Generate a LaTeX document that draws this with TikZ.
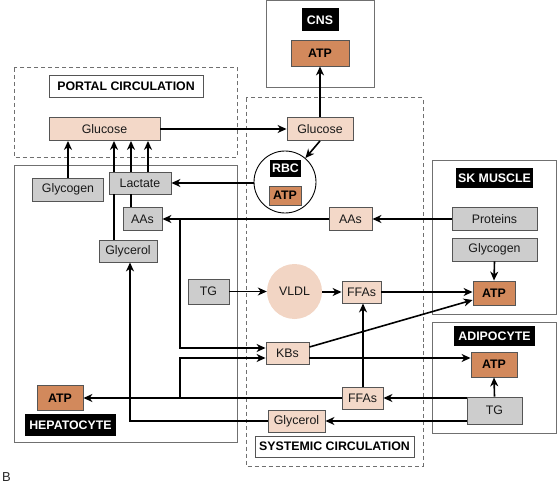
\documentclass[tikz,border=0pt]{standalone}
\usepackage{fontspec}
\setmainfont{Liberation Sans}
\usetikzlibrary{arrows.meta,calc}
\definecolor{peach}{HTML}{F3D8C8}
\definecolor{vldlc}{HTML}{F2D5C4}
\definecolor{atpc}{HTML}{D2895C}
\definecolor{grayf}{HTML}{CDCDCD}
\definecolor{edgec}{HTML}{555555}
\definecolor{framec}{HTML}{707070}
\begin{document}
\begin{tikzpicture}[x=1bp,y=-1bp,
  every node/.style={font=\fontsize{12.4}{14}\selectfont, inner sep=0pt, text=black!90},
  sz/.style 2 args={minimum width=#1, minimum height=#2},
  pbox/.style={draw=edgec, line width=0.9pt, fill=peach},
  gbox/.style={draw=edgec, line width=0.9pt, fill=grayf},
  abox/.style={draw=edgec, line width=0.9pt, fill=atpc, font=\fontsize{12.4}{14}\selectfont\bfseries, text=black},
  blab/.style={fill=black, text=white, font=\fontsize{12.4}{14}\selectfont\bfseries},
  wlab/.style={draw=edgec, line width=0.9pt, fill=white, text=black, font=\fontsize{12.4}{14}\selectfont\bfseries},
  frm/.style={draw=framec, line width=1pt},
  dfrm/.style={draw=framec, line width=1pt, dash pattern=on 4pt off 3pt},
  arr/.style={draw=black, line width=1.6pt, -{Stealth[length=9pt,width=8pt,inset=2.8pt]}},
  ln/.style={draw=black, line width=1.6pt}
]
\useasboundingbox (0,0) rectangle (557,486);

% frames
\draw[frm] (266,0.6) rectangle (374.5,88);
\draw[dfrm] (14,68) rectangle (237,157);
\draw[frm] (14,165) rectangle (237,442);
\draw[dfrm] (246,98) rectangle (423,466);
\draw[frm] (432,160) rectangle (556,314);
\draw[frm] (432,322) rectangle (556,433);

% CNS
\node[blab, sz={37bp}{23bp}] (cnsl) at (320,20) {CNS};
\node[abox, sz={58bp}{26bp}] (cnsatp) at (320,53) {ATP};

% portal
\node[wlab, sz={154bp}{22bp}] (portl) at (126,86) {PORTAL CIRCULATION};
\node[pbox, sz={111bp}{23bp}] (pglu) at (104.5,129) {Glucose};

% systemic
\node[pbox, sz={66bp}{23bp}] (sglu) at (320,129) {Glucose};
\node[circle, draw=black, line width=0.9pt, fill=white, minimum size=62bp] (rbc) at (285,182) {};
\node[blab, sz={31bp}{17bp}] (rbcl) at (285.5,168.5) {RBC};
\node[abox, sz={32bp}{19bp}] (rbcatp) at (285,195.5) {ATP};
\node[pbox, sz={43bp}{23bp}] (saas) at (350.5,219) {AAs};
\node[circle, fill=vldlc, minimum size=55bp] (vldl) at (294.5,291.5) {VLDL};
\node[pbox, sz={39bp}{22bp}] (uffa) at (361.5,292) {FFAs};
\node[pbox, sz={43bp}{22bp}] (kbs) at (287.5,353) {KBs};
\node[pbox, sz={41bp}{22bp}] (lffa) at (362.5,398) {FFAs};
\node[pbox, sz={57bp}{22bp}] (sgly) at (296.5,421) {Glycerol};
\node[wlab, sz={159bp}{21bp}] (sysl) at (334.5,446.5) {SYSTEMIC CIRCULATION};

% hepatocyte
\node[gbox, sz={71bp}{23bp}] (lgcg) at (68,189.5) {Glycogen};
\node[gbox, sz={62bp}{22bp}] (lac) at (140,183) {Lactate};
\node[gbox, sz={39bp}{23bp}] (laas) at (142.5,219) {AAs};
\node[gbox, sz={58bp}{22bp}] (lgly) at (128,251) {Glycerol};
\node[gbox, sz={41bp}{25bp}] (ltg) at (208.5,291.5) {TG};
\node[abox, sz={46bp}{25bp}] (hatp) at (60,398) {ATP};
\node[blab, sz={91bp}{22bp}] (hepl) at (70.5,425) {HEPATOCYTE};

% SK muscle
\node[blab, sz={77bp}{20bp}] (skl) at (494.5,178) {SK MUSCLE};
\node[gbox, sz={85bp}{23bp}] (prot) at (494.5,219) {Proteins};
\node[gbox, sz={85bp}{23bp}] (skgcg) at (494.5,249.5) {Glycogen};
\node[abox, sz={42bp}{24bp}] (skatp) at (494,293) {ATP};

% adipocyte
\node[blab, sz={81bp}{20bp}] (adl) at (494.5,336) {ADIPOCYTE};
\node[abox, sz={46bp}{25bp}] (aatp) at (494,364.5) {ATP};
\node[gbox, sz={55bp}{27bp}] (atg) at (494.5,410.5) {TG};

\node[font=\fontsize{13}{14}\selectfont, text=black!85] (blabel) at (6.5,477) {B};

% junctions
\coordinate (j1) at (180,219);
\coordinate (j2) at (180,398);

% arrows
\draw[arr] (pglu.east) -- (sglu.west);
\draw[arr] (sglu.north) -- (cnsatp.south);
\draw[arr] (sglu.south) -- (rbc);
\draw[arr] (rbc.west |- lac.east) -- (lac.east);

\draw[arr] (lgcg.north) -- (lgcg.north |- pglu.south);
\draw[arr] ($(lac.north)+(8,0)$) -- ($(lac.north |- pglu.south)+(8,0)$);
\draw[ln] ($(laas.north)+(-11.5,0)$) -- ($(laas.north |- lac.south)+(-11.5,0)$);
\draw[arr] ($(lac.north)+(-9,0)$) -- ($(lac.north |- pglu.south)+(-9,0)$);
\draw[ln] ($(lgly.north)+(-14,0)$) -- ($(lgly.north |- lac.south)+(-14,0)$);
\draw[arr] ($(lac.north)+(-26,0)$) -- ($(lac.north |- pglu.south)+(-26,0)$);

\draw[arr] (prot.west) -- (saas.east);
\draw[arr] (saas.west) -- (laas.east);
\draw[arr] (j1) |- ($(kbs.west)+(0,-5)$);
\draw[arr] (lffa.west |- hatp.east) -- (hatp.east);
\draw[arr] (j2) |- ($(kbs.west)+(0,5)$);

\draw[arr] ($(kbs.east)+(0,-6)$) -- ($(skatp.west)+(0,7)$);
\draw[arr] ($(kbs.east)+(0,5)$) -- ($(kbs.east -| aatp.west)+(0,5)$);

\draw[arr] (ltg.east) -- (vldl);
\draw[arr] (vldl.east |- uffa.west) -- (uffa.west);
\draw[arr] (uffa.east) -- (uffa.east -| skatp.west);
\draw[arr] ($(lffa.north)+(0.5,0)$) -- ($(lffa.north |- uffa.south)+(0.5,0)$);
\draw[arr] (skgcg.south) -- (skatp.north);

\draw[arr] (atg.north) -- (aatp.south);
\draw[arr] (lffa.east -| atg.west) -- (lffa.east);
\draw[arr] (sgly.east -| atg.west) -- (sgly.east);
\draw[arr] (sgly.west) -| ($(lgly.south)+(2,0)$);
\end{tikzpicture}
\end{document}
